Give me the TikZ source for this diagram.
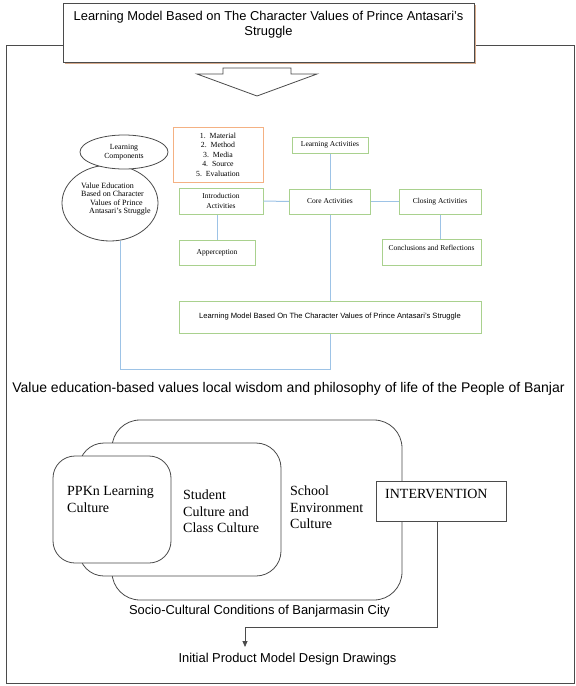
\documentclass[tikz,border=0pt]{standalone}
\usepackage{fontspec}
\setmainfont{Liberation Serif}
\setsansfont{Liberation Sans}
\usetikzlibrary{shapes.geometric,arrows.meta}
\definecolor{gbox}{RGB}{169,209,142}
\definecolor{bline}{RGB}{157,195,230}
\definecolor{obox}{RGB}{244,177,131}
\definecolor{dline}{RGB}{75,75,75}
\definecolor{shad}{RGB}{214,170,140}
\begin{document}
\begin{tikzpicture}[x=1pt,y=-1pt,
  gboxst/.style={draw=gbox,line width=1pt,fill=white,inner sep=0pt,font=\fontsize{7.5}{10}\selectfont,align=center},
  bl/.style={draw=bline,line width=1pt},
  dk/.style={draw=dline,line width=0.8pt},
  ell/.style={ellipse,draw=dline,line width=0.8pt,fill=white,inner sep=0pt},
  rbox/.style={draw=dline,line width=0.8pt,fill=white,inner sep=0pt},
  serifbig/.style={font=\fontsize{14}{16.3}\selectfont,align=left,inner sep=0pt},
  sanstxt/.style={font=\sffamily\fontsize{12.9}{15}\selectfont,inner sep=0pt}
]
\useasboundingbox (0,0) rectangle (576,686);
\fill[white] (0,0) rectangle (576,686);

% outer frame
\draw[dk] (6,45) rectangle (574,683);

% title box with shadow
\fill[shad] (65,5) rectangle (476,64);
\node[rbox,minimum width=411pt,minimum height=59pt] (title) at (268.5,32.5) {};
\node[font=\sffamily\fontsize{12.9}{15}\selectfont,align=center,inner sep=0pt] (titletext) at (268.5,25)
  {Learning Model Based on The Character Values of Prince Antasari's\\Struggle};

% block arrow
\draw[dk,fill=white] (223,68) -- (291,68) -- (291,74) -- (317,74) -- (257,96) -- (197,74) -- (223,74) -- cycle;

% upper diagram nodes
\node[ell,minimum width=96pt,minimum height=76pt] (ve) at (110,203) {};
\node[ell,minimum width=88pt,minimum height=34pt,font=\fontsize{7.8}{9}\selectfont,align=center] (lc) at (124,152) {Learning\\Components};
\node[font=\fontsize{8}{8.4}\selectfont,align=left,inner sep=0pt] (vetext) at (116,199)
  {Value Education\\Based on Character\\\hspace{9pt}Values of Prince\\\hspace{8pt}Antasari's Struggle};

\node[draw=obox,line width=1pt,fill=white,minimum width=90pt,minimum height=55pt,inner sep=0pt,
  font=\fontsize{7.8}{9.5}\selectfont,align=center] (comp) at (218,154.5)
  {1.\ \ Material\\2.\ \ Method\\3.\ \ Media\\4.\ \ Source\\5.\ \ Evaluation};

\node[gboxst,minimum width=84pt,minimum height=26pt] (intro) at (221,201) {Introduction\\Activities};
\node[gboxst,minimum width=76pt,minimum height=25pt] (app) at (217,252.5) {Apperception};
\node[gboxst,minimum width=76pt,minimum height=16pt] (la) at (330,145) {Learning Activities};
\node[gboxst,minimum width=81pt,minimum height=25pt] (core) at (330,201.5) {Core Activities};
\node[gboxst,minimum width=82pt,minimum height=25pt] (close) at (440,201.5) {Closing Activities};
\node[gboxst,minimum width=99pt,minimum height=26pt] (concl) at (431.5,252) {};
\node[font=\fontsize{7.5}{9}\selectfont,inner sep=0pt] (concltext) at (431.5,248) {Conclusions and Reflections};

% blue connectors
\coordinate (loop) at (330,369);
\draw[bl] (core.south) -- (core.south |- loop) -| (ve.-75);
\draw[bl] (intro.east) -- (core.west);
\draw[bl] (core.east) -- (close.west);
\draw[bl] (la.south) -- (core.north);
\draw[bl] (close.south) -- (close.south |- concl.north);
\draw[bl] (app.north) -- (app.north |- intro.south);

\node[gboxst,minimum width=302pt,minimum height=32pt,font=\sffamily\fontsize{7.6}{9}\selectfont] (model) at (330,317)
  {Learning Model Based On The Character Values of Prince Antasari's Struggle};

% middle statement
\node[sanstxt,font=\sffamily\fontsize{14}{16}\selectfont] (valueed) at (288.5,389)
  {Value education-based values local wisdom and philosophy of life of the People of Banjar};

% bottom nested cultures
\node[rbox,rounded corners=28pt,minimum width=290pt,minimum height=180pt] (school) at (257,510) {};
\node[rbox,rounded corners=25pt,minimum width=202pt,minimum height=133pt] (student) at (180,509.5) {};
\node[rbox,rounded corners=22pt,minimum width=118pt,minimum height=107pt] (ppkn) at (112,509.5) {};
\node[serifbig,anchor=west] (ppkntext) at (67,499.5) {PPKn Learning\\Culture};
\node[serifbig,anchor=west] (studenttext) at (183,511.5) {Student\\Culture and\\Class Culture};
\node[serifbig,anchor=west] (schooltext) at (290,507.5) {School\\Environment\\Culture};

\node[rbox,minimum width=130pt,minimum height=40pt] (interv) at (441,501) {};
\node[font=\fontsize{14}{16}\selectfont,inner sep=0pt,anchor=west] (intervtext) at (385,494) {INTERVENTION};

\node[sanstxt] (socio) at (259.5,611) {Socio-Cultural Conditions of Banjarmasin City};
\node[sanstxt] (initial) at (287.5,659) {Initial Product Model Design Drawings};

\coordinate (arrowend) at (245,647);
\draw[dk,-{Triangle[length=6pt,width=5pt]}] ([xshift=-4pt]interv.south) -- ++(0,106) -| (arrowend);
\end{tikzpicture}
\end{document}
